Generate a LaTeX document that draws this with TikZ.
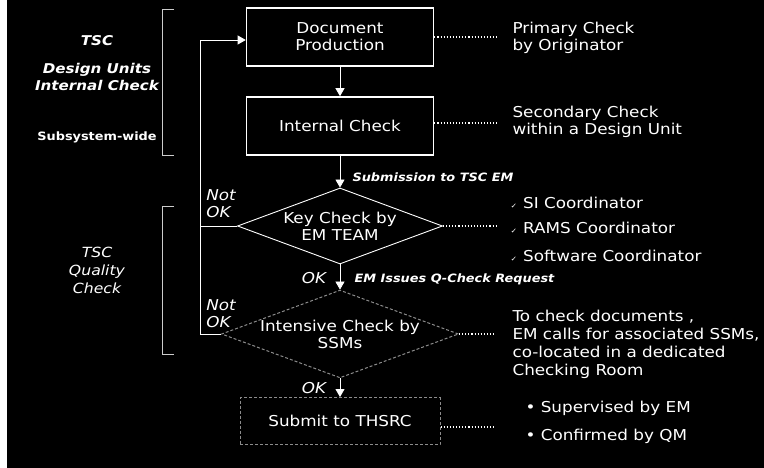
\documentclass[tikz,border=0pt]{standalone}
\usepackage{fontspec}
\setmainfont[FakeStretch=1.12]{DejaVu Sans}
\usetikzlibrary{arrows.meta,shapes.geometric}

\begin{document}
\begin{tikzpicture}[x=1pt,y=-1pt,
  every node/.style={text=white,font=\fontsize{15}{17}\selectfont},
  box/.style={draw=white,line width=1.6pt,minimum width=187pt,minimum height=58pt,inner sep=0pt,align=center},
  faint/.style={draw=white!55!black,densely dashed,line width=1pt},
  dia/.style={diamond,draw=white,line width=0.9pt,aspect=2.7,minimum width=205pt,minimum height=76pt,inner sep=0pt,align=center},
  flow/.style={white,line width=0.8pt,-{Triangle[width=9pt,length=8pt]}},
  dots/.style={white,dotted,line width=1.1pt},
  note/.style={anchor=west,align=left},
  side/.style={font=\fontsize{13.5}{17}\selectfont\bfseries\itshape,align=center},
  tag/.style={font=\fontsize{11.5}{14}\selectfont\bfseries\itshape,anchor=west},
  ok/.style={font=\fontsize{15}{17}\selectfont\itshape,align=left},
  brace/.style={white!80!black,line width=0.8pt}]
\fill[white](0,0)rectangle(7,468);
\fill[black](7,0)rectangle(764,468);
\useasboundingbox(0,0)rectangle(764,468);
% flow
\node[box] (doc) at (340,37) {Document\\Production};
\node[box] (ic) at (340,126) {Internal Check};
\node[dia] (key) at (340,226) {Key Check by\\EM TEAM};
\node[dia,faint] (intens) at (340,334) {Intensive Check by\\SSMs};
\node[box,faint,minimum width=200pt,minimum height=47pt] (sub) at (340,421) {Submit to THSRC};
\draw[flow](doc)--(ic);
\draw[flow](ic)--(key);
\draw[flow](key)--(intens);
\draw[flow](intens)--(sub);
% return line
\coordinate (ret) at (200,334);
\coordinate (rettop) at (200,40);
\draw[white,line width=0.8pt](key.west)--(key.west-|ret);
\draw[flow](intens.west)--(ret)--(rettop)--(rettop-|doc.west);
\node[ok] (nok1) at (221,204) {Not\\OK};
\node[ok] (nok2) at (221,314) {Not\\OK};
\node[ok] (ok1) at (314,278) {OK};
\node[ok] (ok2) at (314,388) {OK};
\node[tag] (subm) at (349,177) {Submission to TSC EM};
\node[tag] (req) at (351,279) {EM Issues Q-Check Request};
% notes
\coordinate (d1) at (497,37);
\coordinate (d2) at (497,123);
\coordinate (d3) at (497,226);
\coordinate (d4) at (495,334);
\coordinate (d5) at (495,427);
\draw[dots](doc.east)--(d1);
\draw[dots](ic.east|-d2)--(d2);
\draw[dots](key.east)--(d3);
\draw[dots](intens.east)--(d4);
\draw[dots](sub.east|-d5)--(d5);
\node[note] (prim) at (509,38) {Primary Check\\by Originator};
\node[note] (sec) at (509,122) {Secondary Check\\within a Design Unit};
\node[note] (si) at (507,203) {{\fontsize{7}{7}\selectfont ✓}\hspace{6pt}SI Coordinator};
\node[note] (rams) at (507,228) {{\fontsize{7}{7}\selectfont ✓}\hspace{6pt}RAMS Coordinator};
\node[note] (sw) at (507,256) {{\fontsize{7}{7}\selectfont ✓}\hspace{6pt}Software Coordinator};
\node[note,font=\fontsize{15}{18}\selectfont] (todo) at (509,344) {To check documents ,\\EM calls for associated SSMs,\\co-located in a dedicated\\Checking Room};
\node[note] (sup) at (522,408) {\textbullet\ Supervised by EM};
\node[note] (conf) at (522,436) {\textbullet\ Confirmed by QM};
% left side
\draw[brace](174,9)--(162,9)--(162,155)--(174,155);
\draw[brace](174,206)--(162,206)--(162,354)--(174,354);
\node[side] (tsc) at (97,41) {TSC};
\node[side] (du) at (97,77) {Design Units\\Internal Check};
\node[font=\fontsize{11.5}{14}\selectfont\bfseries] (ssw) at (97,137) {Subsystem-wide};
\node[ok,align=center,font=\fontsize{14}{18}\selectfont\itshape] (tqc) at (97,270) {TSC\\Quality\\Check};
\end{tikzpicture}
\end{document}
